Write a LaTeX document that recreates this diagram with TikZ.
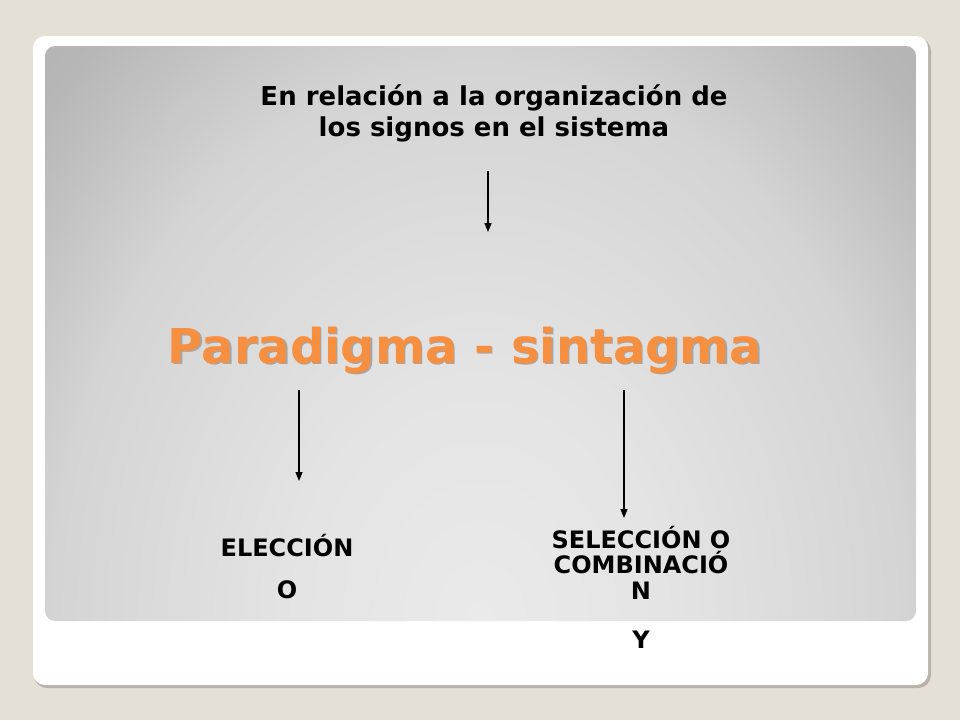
\documentclass[tikz,border=0pt]{standalone}
\usepackage{fontspec}
\setmainfont{DejaVu Sans}
\usetikzlibrary{arrows.meta}

\definecolor{backdrop}{RGB}{229,224,214}
\definecolor{cardshadow}{RGB}{184,178,168}
\definecolor{titleorange}{RGB}{247,143,64}
\definecolor{glowA}{RGB}{234,234,234}
\definecolor{glowB}{RGB}{228,228,228}
\definecolor{glowC}{RGB}{212,212,212}
\definecolor{glowD}{RGB}{183,183,183}
\definecolor{glowE}{RGB}{174,174,174}
\definecolor{glowF}{RGB}{164,164,164}
\pgfdeclareradialshading{panelglow}{\pgfpoint{0bp}{0bp}}{%
  color(0bp)=(glowA); color(7.6bp)=(glowB); color(17.7bp)=(glowC);
  color(24.2bp)=(glowD); color(29bp)=(glowE); color(35.4bp)=(glowF);
  color(50bp)=(glowF)}

\begin{document}
\begin{tikzpicture}[x=1pt,y=-1pt,
  caption/.style={font=\bfseries\fontsize{24}{25.5}\selectfont, align=center, anchor=base},
  flow/.style={line width=1.2pt, -{Triangle[length=9pt,width=7pt]}}]
\useasboundingbox (0,0) rectangle (960,720);
\fill[backdrop] (0,0) rectangle (960,720);

% Card and panel
\fill[cardshadow, rounded corners=13pt] (34,38) rectangle (931,688);
\fill[white, rounded corners=12pt] (33,36) rectangle (928,685);
\begin{scope}
\clip[rounded corners=10pt] (45,46) rectangle (916,621);
\shade[shading=panelglow] (-122,-164) rectangle (1082,1404);
\end{scope}

% Texts
\node[caption, font=\bfseries\fontsize{26}{31}\selectfont] (heading) at (494,136)
  {En relación a la organización de\\los signos en el sistema};
\node[anchor=base, text=black!35, font=\bfseries\fontsize{48}{50}\selectfont] (main-shadow) at (466.5,364.5)
  {Paradigma - sintagma};
\node[anchor=base, text=titleorange, font=\bfseries\fontsize{48}{50}\selectfont] (main) at (465,363)
  {Paradigma - sintagma};
\node[caption] (choice)   at (287,556) {ELECCIÓN};
\node[caption] (choice-o) at (287,598) {O};
\node[caption] (combo)    at (641,599) {SELECCIÓN O\\COMBINACIÓ\\N};
\node[caption] (combo-y)  at (641,648) {Y};

% Arrows
\coordinate (top-start)   at (488,171);
\coordinate (top-end)     at (488,232);
\coordinate (left-start)  at (299,390);
\coordinate (left-end)    at (299,481);
\coordinate (right-start) at (624,390);
\coordinate (right-end)   at (624,518);
\draw[flow] (top-start) -- (top-end);
\draw[flow] (left-start) -- (left-end);
\draw[flow] (right-start) -- (right-end);

\end{tikzpicture}
\end{document}
